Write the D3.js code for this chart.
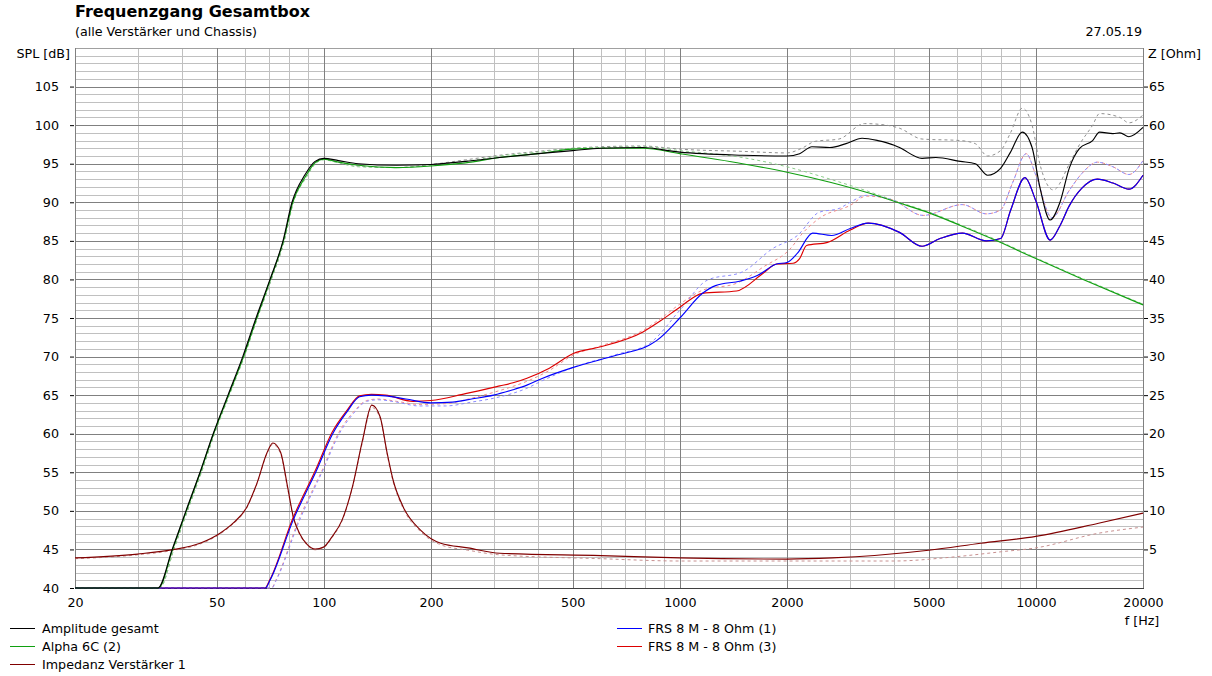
<!DOCTYPE html>
<html>
<head>
<meta charset="utf-8">
<script src="https://cdn.jsdelivr.net/npm/d3@7"></script>
<style>
  body { margin: 0; background: #fff; }
  svg { display: block; font-family: "DejaVu Sans", sans-serif; }
</style>
</head>
<body>
<div id="vis"></div>
<script>
const FRAME_WIDTH = 1212;
const FRAME_HEIGHT = 676;
const MARGINS = {left: 75, right: 69, top: 48, bottom: 88};
const FONT_SIZE = 12.7;

// axis ticks
const freqTicks = [20, 50, 100, 200, 500, 1000, 2000, 5000, 10000, 20000];
const splTicks = [40, 45, 50, 55, 60, 65, 70, 75, 80, 85, 90, 95, 100, 105];
const zTicks = [5, 10, 15, 20, 25, 30, 35, 40, 45, 50, 55, 60, 65];

// Amplitude gesamt (black) [Hz, dB]
const ampGesamt = [[20,40],[34.2,40],[37.5,45],[41,50],[44.9,55],[48.9,60],[53.8,65],[59.2,70],
  [64.5,75],[70.6,80],[76.8,85],[81.4,90],[88.6,93.6],[94.5,95.3],[100,95.7],[110,95.4],[125,95],
  [160,94.8],[200,94.9],[250,95.3],[312,95.8],[400,96.3],[500,96.7],[600,97],[788,97.1],[900,96.8],
  [1000,96.5],[1500,96.1],[2000,96],[2170,96.3],[2350,97.2],[2640,97.1],[2930,97.6],[3250,98.3],
  [3600,98],[4000,97.4],[4140,97.1],[4790,95.7],[5240,95.8],[6140,95.3],[6760,95],[7320,93.5],
  [7960,94.4],[8490,96.5],[9160,99.1],[9760,97.1],[10260,92],[10970,87.7],[11670,89.9],[12430,94.5],
  [13270,97],[14440,98],[15100,99.1],[16470,98.9],[17230,99],[18260,98.5],[20000,99.7]];

// Amplitude gesamt, older measurement (grey dashed)
const ampGesamtOld = [[20,40],[34.6,40],[37.9,45],[41.4,50],[45.3,55],[49.3,60],[54.2,65],[59.6,70],
  [65,75],[71.2,80],[77.4,85],[82,90],[89.2,93.5],[95,95.2],[100,95.6],[110,95.2],[125,94.7],
  [160,94.5],[200,94.9],[250,95.5],[312,96.1],[400,96.6],[500,97],[600,97.2],[788,97.3],[900,97.1],
  [1000,96.9],[1500,96.6],[2000,96.4],[2200,97],[2400,97.9],[2800,98.2],[3300,100.2],[3800,100],
  [4140,99.6],[4790,98.2],[6140,98],[6760,97.6],[7320,96],[7960,96.7],[8490,99],[9160,102.2],
  [9760,100],[10260,95],[11200,91.6],[12430,95],[13270,97.5],[14440,100],[15100,101.5],[17230,101],
  [18260,100.3],[20000,101.3]];

// Alpha 6C (2) (green)
const alpha6c = [[20,40],[34.3,40],[37.6,45],[41.1,50],[45,55],[49,60],[54,65],[59.5,70],[64.8,75],
  [70.8,80],[77,85],[81.8,90],[89,93.4],[94.8,95.2],[100,95.6],[110,95.2],[125,94.8],[160,94.5],
  [200,94.7],[250,95.1],[312,95.8],[400,96.3],[500,96.9],[600,97],[788,97],[1000,96.3],[1500,95],
  [2000,93.9],[2643,92.6],[3340,91.3],[4140,89.9],[5040,88.6],[6140,87],[7600,85.2],[10000,82.7],
  [13580,80],[20000,76.7]];

// Alpha 6C, older measurement (light green dashed)
const alpha6cOld = [[20,40],[34.6,40],[37.9,45],[41.4,50],[45.3,55],[49.3,60],[54.3,65],[59.8,70],
  [65.1,75],[71.2,80],[77.4,85],[82.2,90],[89.5,93.3],[95.2,95.1],[100,95.5],[110,95.1],[125,94.6],
  [160,94.5],[200,94.8],[250,95.3],[312,96],[400,96.5],[500,97],[600,97.1],[788,97.2],[1000,96.7],
  [1500,95.8],[2000,94.6],[2643,93],[3340,91.5],[4140,90],[5040,88.7],[6140,87.1],[7600,85.3],
  [10000,82.8],[13580,80.1],[20000,76.8]];

// FRS 8 M - 8 Ohm (1) (blue)
const frs1 = [[20,40],[68.5,40],[70.6,41],[82,48.8],[95.5,55.3],[105.9,60],[116,62.8],[126,64.8],
  [136,65],[149,64.9],[170,64.5],[200,64],[230,64.1],[260,64.5],[300,65],[340,65.7],[372,66.3],
  [412,67.2],[502,68.6],[667,70.2],[822,71.5],[862,72.1],[1000,75],[1158,78.2],[1260,79.2],
  [1480,79.8],[1650,80.5],[1870,82],[2000,82.2],[2140,83.4],[2360,86],[2670,85.7],[3010,86.6],
  [3380,87.3],[4140,86.1],[4790,84.3],[5380,85.3],[6220,86],[7260,85],[7960,85.3],[8500,89],
  [9320,93.2],[10000,90.2],[10970,85.1],[11700,87],[12400,89.5],[13450,91.8],[14900,93],
  [16470,92.5],[18260,91.7],[20000,93.5]];

// FRS 8 M - 8 Ohm (3) (red)
const frs3 = [[20,40],[68.3,40],[70.4,41],[81.8,49],[95.2,55.5],[105.5,60.2],[116,63],[126,64.9],
  [136,65.1],[149,65],[178,64.2],[200,64.3],[250,65.2],[312,66.2],[340,66.6],[372,67.2],[430,68.5],
  [502,70.4],[591,71.2],[788,73.2],[887,74.7],[1000,76.4],[1158,78.2],[1443,78.5],[1714,80.8],
  [1870,82],[2080,82.1],[2170,82.7],[2270,84.4],[2600,84.8],[3010,86.4],[3380,87.3],[4140,86.1],
  [4790,84.3],[5380,85.3],[6220,86],[7260,85],[7960,85.3],[8500,89],[9320,93.2],[10000,90.2],
  [10970,85.1],[11700,87],[12400,89.5],[13450,91.8],[14900,93],[16470,92.5],[18260,91.7],[20000,93.5]];

// FRS (1), older measurement (light blue dashed)
const frs1Old = [[20,40],[71.5,40],[73.5,41],[85.5,48.8],[99.5,55.3],[110.5,60],[121,62.6],
  [132,64.2],[142,64.4],[160,64.1],[185,63.6],[220,63.6],[260,64.1],[300,64.6],[372,65.9],
  [412,66.9],[502,68.6],[667,70.3],[822,71.7],[1000,76],[1194,79.9],[1503,81],[1823,84],[2140,85.7],
  [2460,88.7],[2800,89.2],[3010,90],[3340,90.9],[3960,90.3],[4820,88.3],[6220,89.7],[7260,88.5],
  [7960,89],[8600,92.5],[9400,96.3],[10000,93.5],[11100,88],[12400,91.5],[13450,93.7],[14900,95.2],
  [16470,94.6],[18260,93.6],[20000,95.4]];

// FRS (3), older measurement (light red dashed)
const frs3Old = [[20,40],[71.3,40],[73.3,41],[85.3,49],[99.2,55.4],[110,60.1],[121,62.8],
  [132,64.3],[142,64.5],[160,64.2],[185,63.8],[220,63.9],[260,64.6],[312,65.6],[372,66.8],
  [430,68.2],[502,70.2],[591,71.3],[788,73.4],[887,75],[1000,76.8],[1158,78.6],[1443,79.5],
  [1714,81.6],[2080,84.4],[2150,85.3],[2460,87.9],[3010,89.6],[3340,90.8],[3960,90.3],[4820,88.3],
  [6220,89.7],[7260,88.5],[7960,89],[8600,92.5],[9400,96.3],[10000,93.5],[11100,88],[12400,91.5],
  [13450,93.7],[14900,95.2],[16470,94.6],[18260,93.6],[20000,95.4]];

// Impedanz Verstärker 1 (dark red) [Hz, Ohm]
const impedanz = [[20,3.9],[30,4.4],[38,5],[44.9,5.8],[51.1,7.1],[55.6,8.4],[60.8,10.5],[64.9,13.6],
  [69.2,17.5],[71.9,18.8],[75.6,17.6],[79.1,13.1],[82.1,9.2],[85.4,7.1],[90,5.6],[94.5,5.05],
  [99.8,5.3],[105.3,6.6],[112.5,8.8],[120.3,13.1],[128.5,19.2],[136.4,23.7],[143.9,22.2],[150.6,17.5],
  [156.5,14],[167.1,10.5],[186.9,7.5],[213,5.8],[254,5.2],[312,4.5],[600,4.2],[1000,3.9],
  [2000,3.75],[2680,3.9],[5000,4.9],[7000,5.8],[10000,6.7],[15000,8.4],[20000,9.7]];

// Impedanz, older measurement (pink dashed)
const impedanzOld = [[20,3.8],[30,4.3],[38,4.9],[44.9,5.7],[51.1,7],[55.6,8.3],[60.8,10.4],
  [64.9,13.5],[69.2,17.4],[71.9,18.6],[75.6,17.4],[79.1,12.9],[82.1,9.1],[85.4,7],[90,5.5],
  [94.5,4.95],[99.8,5.2],[105.3,6.5],[112.5,8.7],[120.3,13],[128.5,19],[136.4,23.4],[143.9,22],
  [150.6,17.3],[156.5,13.8],[167.1,10.3],[186.9,7.3],[213,5.6],[254,4.9],[312,4.3],[600,3.8],
  [1000,3.5],[2000,3.5],[4000,3.5],[5800,4],[8000,4.7],[10000,5.2],[15000,7.1],[20000,7.9]];

const legendLeft = ["Amplitude gesamt", "Alpha 6C (2)", "Impedanz Verstärker 1"];
const legendRight = ["FRS 8 M - 8 Ohm (1)", "FRS 8 M - 8 Ohm (3)"];

const VIS_WIDTH = FRAME_WIDTH - MARGINS.left - MARGINS.right;
const VIS_HEIGHT = FRAME_HEIGHT - MARGINS.top - MARGINS.bottom;

const svg = d3.select("#vis").append("svg")
  .attr("width", FRAME_WIDTH)
  .attr("height", FRAME_HEIGHT);

const X_SCALE = d3.scaleLog().domain([20, 20000]).range([MARGINS.left, MARGINS.left + VIS_WIDTH]);
const Y_SCALE = d3.scaleLinear().domain([40, 110]).range([MARGINS.top + VIS_HEIGHT, MARGINS.top]);
const Z_SCALE = d3.scaleLinear().domain([0, 70]).range([MARGINS.top + VIS_HEIGHT, MARGINS.top]);

const x0 = MARGINS.left, x1 = MARGINS.left + VIS_WIDTH;
const y0 = MARGINS.top, y1 = MARGINS.top + VIS_HEIGHT;

// grid: minor lines every 1 dB, major every 5 dB
const grid = svg.append("g").attr("shape-rendering", "crispEdges");
grid.selectAll(".hminor")
  .data(d3.range(41, 110).filter(v => v % 5 !== 0))
  .enter().append("line")
    .attr("x1", x0).attr("x2", x1)
    .attr("y1", d => Math.round(Y_SCALE(d)) + 0.5).attr("y2", d => Math.round(Y_SCALE(d)) + 0.5)
    .attr("stroke", "#c0c0c0");

// vertical minor lines at every decade step
const minorFreqs = [];
[10, 100, 1000, 10000].forEach(dec => {
  for (let m = 1; m <= 9; m++) {
    const f = dec * m;
    if (f > 20 && f < 20000 && !freqTicks.includes(f)) minorFreqs.push(f);
  }
});
grid.selectAll(".vminor")
  .data(minorFreqs)
  .enter().append("line")
    .attr("x1", d => Math.round(X_SCALE(d)) + 0.5).attr("x2", d => Math.round(X_SCALE(d)) + 0.5)
    .attr("y1", y0).attr("y2", y1)
    .attr("stroke", "#c0c0c0");

grid.selectAll(".hmajor")
  .data(splTicks.concat([110]).filter(v => v > 40))
  .enter().append("line")
    .attr("x1", x0).attr("x2", x1)
    .attr("y1", d => Math.round(Y_SCALE(d)) + 0.5).attr("y2", d => Math.round(Y_SCALE(d)) + 0.5)
    .attr("stroke", d => d === 110 ? "#a0a0a0" : "#808080");

grid.selectAll(".vmajor")
  .data(freqTicks.filter(f => f > 20 && f < 20000))
  .enter().append("line")
    .attr("x1", d => Math.round(X_SCALE(d)) + 0.5).attr("x2", d => Math.round(X_SCALE(d)) + 0.5)
    .attr("y1", y0).attr("y2", y1)
    .attr("stroke", "#808080");

// frame
grid.append("line").attr("x1", x0 + 0.5).attr("x2", x0 + 0.5).attr("y1", y0).attr("y2", y1 + 0.5)
  .attr("stroke", "#808080");
grid.append("line").attr("x1", x1 + 0.5).attr("x2", x1 + 0.5).attr("y1", y0).attr("y2", y1 + 0.5)
  .attr("stroke", "#808080");
grid.append("line").attr("x1", x0).attr("x2", x1 + 1).attr("y1", y1 + 0.5).attr("y2", y1 + 0.5)
  .attr("stroke", "#404040");

// left axis (SPL)
const leftAxis = svg.append("g")
  .attr("transform", "translate(" + x0 + ",0)")
  .call(d3.axisLeft(Y_SCALE).tickValues(splTicks).tickSize(4).tickPadding(12).tickFormat(d3.format("d")));
leftAxis.select(".domain").remove();
leftAxis.selectAll("line").attr("stroke", "#000").attr("transform", "translate(-1,0)");
leftAxis.selectAll("text").attr("font-size", FONT_SIZE).attr("font-family", "DejaVu Sans").attr("fill", "#000");

// right axis (Z)
const rightAxis = svg.append("g")
  .attr("transform", "translate(" + (x1 + 1) + ",0)")
  .call(d3.axisRight(Z_SCALE).tickValues(zTicks).tickSize(4).tickPadding(1).tickFormat(d3.format("d")));
rightAxis.select(".domain").remove();
rightAxis.selectAll("line").attr("stroke", "#000");
rightAxis.selectAll("text").attr("font-size", FONT_SIZE).attr("font-family", "DejaVu Sans").attr("fill", "#000");

// bottom axis (frequency)
const bottomAxis = svg.append("g")
  .attr("transform", "translate(0," + y1 + ")")
  .call(d3.axisBottom(X_SCALE).tickValues(freqTicks).tickSize(0).tickPadding(10).tickFormat(d3.format("d")));
bottomAxis.select(".domain").remove();
bottomAxis.selectAll("text").attr("font-size", FONT_SIZE).attr("font-family", "DejaVu Sans").attr("fill", "#000");

// curves
svg.append("clipPath").attr("id", "plotclip").append("rect")
  .attr("x", x0).attr("y", y0 - 1).attr("width", VIS_WIDTH + 1).attr("height", VIS_HEIGHT + 2);

const splLine = d3.line().x(d => X_SCALE(d[0])).y(d => Y_SCALE(d[1])).curve(d3.curveMonotoneX);
const zLine = d3.line().x(d => X_SCALE(d[0])).y(d => Z_SCALE(d[1])).curve(d3.curveMonotoneX);

const plot = svg.append("g").attr("clip-path", "url(#plotclip)").attr("fill", "none");

const curves = [
  {data: impedanzOld, line: zLine, color: "#c89090", dash: "3,3"},
  {data: ampGesamtOld, line: splLine, color: "#909090", dash: "3,3"},
  {data: alpha6cOld, line: splLine, color: "#8ccc8c", dash: "3,3"},
  {data: frs3Old, line: splLine, color: "#f08c8c", dash: "3,3"},
  {data: frs1Old, line: splLine, color: "#8c8cff", dash: "3,3"},
  {data: impedanz, line: zLine, color: "#800000", dash: null},
  {data: frs3, line: splLine, color: "#dd0000", dash: null},
  {data: frs1, line: splLine, color: "#0000ff", dash: null},
  {data: alpha6c, line: splLine, color: "#10a010", dash: null},
  {data: ampGesamt, line: splLine, color: "#000000", dash: null}
];

plot.selectAll("path")
  .data(curves)
  .enter().append("path")
    .attr("d", d => d.line(d.data))
    .attr("stroke", d => d.color)
    .attr("stroke-width", d => d.dash ? 1 : 1.15)
    .attr("stroke-dasharray", d => d.dash);

// titles and labels
svg.append("text").attr("x", 75).attr("y", 17)
  .attr("font-size", 16).attr("font-weight", "bold").text("Frequenzgang Gesamtbox");
svg.append("text").attr("x", 75).attr("y", 36)
  .attr("font-size", FONT_SIZE).text("(alle Verstärker und Chassis)");
svg.append("text").attr("x", 1142).attr("y", 36).attr("text-anchor", "end")
  .attr("font-size", FONT_SIZE).text("27.05.19");
svg.append("text").attr("x", 70).attr("y", 58).attr("text-anchor", "end")
  .attr("font-size", FONT_SIZE).text("SPL [dB]");
svg.append("text").attr("x", 1148).attr("y", 58)
  .attr("font-size", FONT_SIZE).text("Z [Ohm]");
svg.append("text").attr("x", 1142).attr("y", 625).attr("text-anchor", "middle")
  .attr("font-size", FONT_SIZE).text("f [Hz]");

// legend
const leftColors = ["#000000", "#10a010", "#800000"];
const rightColors = ["#0000ff", "#dd0000"];
const legend = svg.append("g").attr("font-size", FONT_SIZE);

legend.selectAll(".ll")
  .data(legendLeft)
  .enter().append("line")
    .attr("x1", 10).attr("x2", 35)
    .attr("y1", (d, i) => 628.5 + i * 18).attr("y2", (d, i) => 628.5 + i * 18)
    .attr("stroke", (d, i) => leftColors[i]);
legend.selectAll(".lt")
  .data(legendLeft)
  .enter().append("text")
    .attr("x", 42).attr("y", (d, i) => 633 + i * 18)
    .text(d => d);

legend.selectAll(".rl")
  .data(legendRight)
  .enter().append("line")
    .attr("x1", 617).attr("x2", 642)
    .attr("y1", (d, i) => 628.5 + i * 18).attr("y2", (d, i) => 628.5 + i * 18)
    .attr("stroke", (d, i) => rightColors[i]);
legend.selectAll(".rt")
  .data(legendRight)
  .enter().append("text")
    .attr("x", 648).attr("y", (d, i) => 633 + i * 18)
    .text(d => d);
</script>
</body>
</html>
